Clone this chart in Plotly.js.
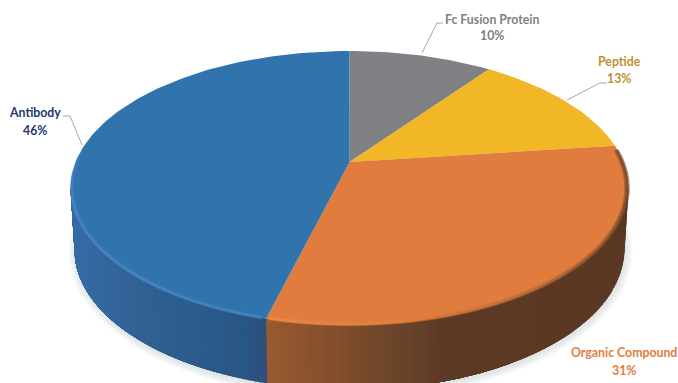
<!DOCTYPE html>
<html>
<head>
<meta charset="utf-8">
<script src="https://cdn.plot.ly/plotly-3.0.1.min.js"></script>
<style>html,body{margin:0;padding:0;background:#fff}#chart{width:678px;height:383px}</style>
</head>
<body>
<div id="chart"></div>
<script>
// Drug modality shares, clockwise from twelve o'clock
const categories = ['Fc Fusion Protein', 'Peptide', 'Organic Compound', 'Antibody'];
const shares = [10, 13, 31, 46];

const faceColors = ['#808184', '#f2b726', '#e07c3e', '#3174ad'];
const textColors = ['#7f7f83', '#bd9132', '#e07c3e', '#22386e'];
// Wall shading per slice: [x position, colour] stops
const wallStops = [
  [[0, '#808184']],
  [[0, '#f2b726']],
  [[268, '#985a30'], [340, '#824d2a'], [400, '#6a432a'], [450, '#5c3925'], [630, '#5a3824']],
  [[70, '#366ca6'], [130, '#326296'], [190, '#2c5c8d'], [240, '#285786'], [268, '#2e4d7b']]
];
// Rim bevel colour per slice: [x position, colour] stops
const rimStops = [
  [[0, '#808184']],
  [[0, '#f2b726']],
  [[268, '#f08c4c'], [400, '#e88242'], [520, '#b96c38'], [600, '#8a5530'], [630, '#6a4228']],
  [[70, '#4a88c8'], [268, '#4a86c4']]
];
// Soft band where the orange rim turns down into the wall
const rimShadeStops = [[268, '#b86c3a'], [400, '#a5633a'], [520, '#84502e'], [630, '#5f3c26']];

// Disc geometry in canvas pixels
const cx = 349.5, topCy = 188, topA = 279, topB = 137, tilt = 0.19;
const botCy = 250, botA = 275, botB = 140;

// Perspective mapping of a pie angle onto the tilted top ellipse
function rimPoint(frac) {
  const ang = frac * 2 * Math.PI, u = Math.sin(ang), v = Math.cos(ang);
  const d = 1 + tilt * v;
  const vp = (v + tilt) / d, up = u * Math.sqrt(1 - tilt * tilt) / d;
  return [cx + topA * up, topCy - topB * vp];
}
const apex = [cx, topCy - topB * tilt];

const hex = c => [1, 3, 5].map(i => parseInt(c.substr(i, 2), 16));
function shadeRgb(stops, x) {
  if (x <= stops[0][0] || stops.length === 1) return hex(stops[0][1]);
  for (let i = 1; i < stops.length; i++) {
    if (x <= stops[i][0]) {
      const a = hex(stops[i - 1][1]), b = hex(stops[i][1]);
      const t = (x - stops[i - 1][0]) / (stops[i][0] - stops[i - 1][0]);
      return a.map((v, k) => Math.round(v + (b[k] - v) * t));
    }
  }
  return hex(stops[stops.length - 1][1]);
}

const total = shares.reduce((a, b) => a + b, 0);
const cum = [0];
shares.forEach(s => cum.push(cum[cum.length - 1] + s / total));

const traces = [];
const poly = (pts, color) => traces.push({
  x: pts.map(p => p[0]), y: pts.map(p => p[1]), mode: 'lines', fill: 'toself',
  fillcolor: color, line: {color: 'rgba(0,0,0,0)', width: 0},
  hoverinfo: 'skip', showlegend: false
});
const stroke = (pts, color, w) => traces.push({
  x: pts.map(p => p[0]), y: pts.map(p => p[1]), mode: 'lines',
  line: {color: color, width: w}, hoverinfo: 'skip', showlegend: false
});

// Soft ground shadow around the base
[7, 5, 3, 1].forEach(k => {
  const pts = [];
  for (let i = 0; i <= 120; i++) {
    const s = i / 120 * 2 * Math.PI;
    pts.push([cx + 1 + (botA + k) * Math.cos(s), botCy + 2 + (botB + k) * Math.sin(s)]);
  }
  poly(pts, 'rgba(140,150,160,0.07)');
});

// Outer wall, painted as overlapping shaded bands along the front of the disc
const topAt = s => [cx + topA * Math.cos(s), topCy + topB * Math.sin(s)];
const botAt = s => [cx + botA * Math.cos(s), botCy + botB * Math.sin(s)];
const splitPt = rimPoint(cum[3]);
const splitS = Math.PI - Math.asin((splitPt[1] - topCy) / topB);
function wallBands(idx, s0, s1, count) {
  for (let i = 0; i < count; i++) {
    const a = s0 + (s1 - s0) * i / count;
    const m = s0 + (s1 - s0) * (i + 0.5) / count;
    const c = shadeRgb(wallStops[idx], topAt(m)[0]);
    const pts = [];
    const steps = 6;
    // each band runs on to the end of its slice; the next band paints over it
    for (let k = 0; k <= steps; k++) pts.push(topAt(a + (s1 - a) * k / steps));
    for (let k = steps; k >= 0; k--) pts.push(botAt(a + (s1 - a) * k / steps));
    poly(pts, 'rgb(' + c.join(',') + ')');
  }
}
wallBands(2, 0, splitS, 70);
wallBands(3, splitS, Math.PI, 60);

// Top face slices
shares.forEach((s, i) => {
  const pts = [apex];
  const n = Math.max(8, Math.round(shares[i] * 3));
  for (let k = 0; k <= n; k++) pts.push(rimPoint(cum[i] + (cum[i + 1] - cum[i]) * k / n));
  pts.push(apex);
  poly(pts, faceColors[i]);
});

// Bevel along the rim; fade > 0 thins the far end of the run away to nothing
function bevel(stops, f0, f1, inset, width, alpha, fade) {
  const n = 60;
  for (let k = 0; k < n; k++) {
    const seg = [];
    for (let j = 0; j <= 1; j++) {
      const p = rimPoint(f0 + (f1 - f0) * (k + j) / n);
      seg.push([cx + (p[0] - cx) * (1 - inset), topCy + (p[1] - topCy) * (1 - inset)]);
    }
    const c = shadeRgb(stops, seg[0][0]);
    const left = fade ? Math.min(1, (n - k) / (n * fade)) : 1;
    stroke(seg, 'rgba(' + c.join(',') + ',' + (alpha * left).toFixed(3) + ')', width);
  }
}
bevel(rimShadeStops, 0.235, cum[3] - 0.001, 0, 2.5, 0.6, 0);
bevel(rimStops[3], cum[3] + 0.002, 0.77, 0.005, 4, 0.4, 0.3);
bevel(rimStops[3], cum[3] + 0.002, 0.77, 0.004, 2, 0.75, 0.3);
bevel(rimStops[2], 0.235, cum[3] - 0.001, 0.008, 4, 0.45, 0);
bevel(rimStops[2], 0.235, cum[3] - 0.001, 0.006, 2, 0.7, 0);

// Leader lines from the labels to the rim
const leaderX = [[443, 437, 422], [607, 600, 567], [], [63, 70, 82]];
const leaderY = [[23, 23, 53], [83, 83, 100], [], [116, 116, 145]];
leaderX.forEach((xs, i) => {
  if (xs.length) stroke(xs.map((x, k) => [x, leaderY[i][k]]), '#a6a6a6', 1);
});

// Two-line labels: category name over percentage
const labelX = [492, 619, 624, 35];
const nameY = [19, 61, 352, 112];
const pctY = [35, 78, 370, 130];
const annotations = [];
categories.forEach((c, i) => {
  const base = {xref: 'x', yref: 'y', x: labelX[i], showarrow: false,
    font: {family: 'Lato, "Open Sans", sans-serif', size: 12.3, color: textColors[i]}};
  annotations.push(Object.assign({}, base, {y: nameY[i], text: '<b>' + c + '</b>'}));
  annotations.push(Object.assign({}, base, {y: pctY[i], text: '<b>' + shares[i] + '%</b>'}));
});

Plotly.newPlot('chart', traces, {
  width: 678, height: 383,
  margin: {l: 0, r: 0, t: 0, b: 0},
  paper_bgcolor: '#fff', plot_bgcolor: '#fff',
  xaxis: {range: [0, 678], visible: false, fixedrange: true},
  yaxis: {range: [383, 0], visible: false, fixedrange: true},
  showlegend: false, annotations: annotations
}, {displayModeBar: false, staticPlot: true});
</script>
</body>
</html>
